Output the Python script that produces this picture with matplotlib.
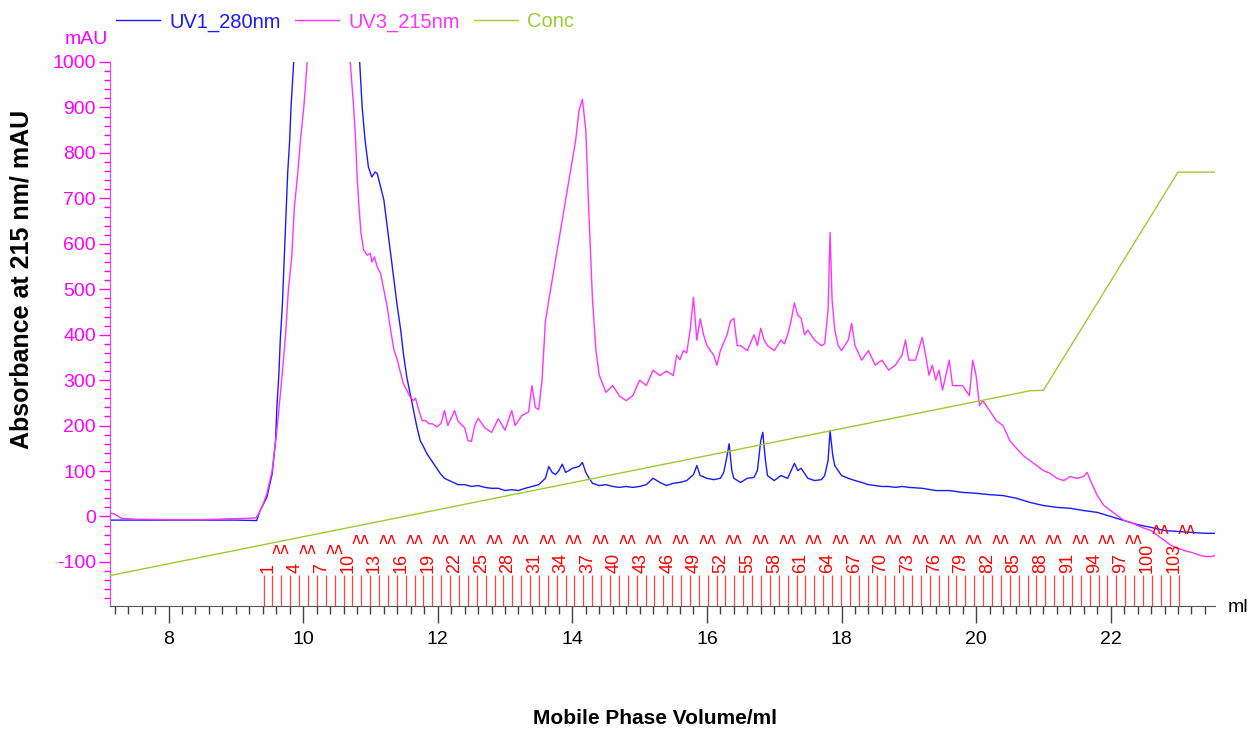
import matplotlib
matplotlib.use("Agg")
import matplotlib.pyplot as plt
import matplotlib.transforms as mtransforms
from matplotlib.lines import Line2D
import numpy as np

plt.rcParams['font.family'] = ['Liberation Sans', 'DejaVu Sans']
plt.rcParams['axes.unicode_minus'] = False

# UV1_280nm trace (ml, mAU); values above 1000 are off scale in the original
uv1_vol = [7.13, 7.5, 8.0, 8.5, 9.0, 9.31, 9.36, 9.46, 9.54, 9.59, 9.61, 9.64, 9.66, 9.69,
           9.71, 9.73, 9.75, 9.77, 9.80, 9.82, 9.86, 9.90, 10.80, 10.84, 10.877, 10.92,
           10.97, 11.02, 11.07, 11.10, 11.20, 11.25, 11.30, 11.35, 11.40, 11.45, 11.49,
           11.54, 11.59, 11.64, 11.69, 11.74, 11.79, 11.84, 11.94, 12.04, 12.1, 12.2,
           12.3, 12.4, 12.5, 12.6, 12.7, 12.8, 12.9, 13.0, 13.1, 13.2, 13.3, 13.4, 13.5,
           13.6, 13.65, 13.7, 13.75, 13.8, 13.85, 13.9, 13.95, 14.0, 14.1, 14.15, 14.2,
           14.25, 14.3, 14.4, 14.5, 14.6, 14.7, 14.8, 14.9, 15.0, 15.1, 15.2, 15.3, 15.4,
           15.5, 15.6, 15.7, 15.8, 15.85, 15.9, 16.0, 16.1, 16.2, 16.25, 16.3, 16.33,
           16.37, 16.4, 16.5, 16.6, 16.7, 16.75, 16.8, 16.83, 16.87, 16.9, 17.0, 17.1,
           17.2, 17.3, 17.35, 17.4, 17.5, 17.6, 17.7, 17.75, 17.8, 17.83, 17.87, 17.9,
           18.0, 18.1, 18.2, 18.3, 18.4, 18.5, 18.6, 18.7, 18.8, 18.9, 19.0, 19.2, 19.4,
           19.6, 19.8, 20.0, 20.2, 20.4, 20.6, 20.8, 21.0, 21.2, 21.4, 21.6, 21.8, 22.0,
           22.2, 22.4, 22.6, 22.8, 23.0, 23.2, 23.4, 23.55]
uv1_mau = [-8, -8, -8, -8, -8, -9, 13, 42, 94, 167, 241, 314, 388, 461,
           535, 608, 681, 755, 828, 901, 1000, 1100, 1100, 1000, 901, 828,
           769, 747, 758, 755, 696, 637, 579, 520, 461, 410, 358,
           307, 270, 233, 197, 167, 153, 138, 116, 94, 84, 77,
           70, 70, 66, 68, 64, 62, 62, 57, 59, 57, 62, 66, 70,
           84, 110, 97, 92, 101, 115, 97, 101, 106, 110, 119, 97,
           84, 73, 68, 70, 66, 64, 66, 64, 66, 70, 84, 75, 68,
           73, 75, 79, 92, 112, 90, 84, 81, 84, 97, 134, 160,
           101, 84, 75, 84, 86, 101, 167, 185, 123, 90, 79, 90,
           84, 117, 101, 106, 84, 79, 81, 90, 123, 189, 134, 112,
           90, 84, 79, 75, 70, 68, 66, 66, 64, 66, 64, 62, 57,
           57, 53, 51, 48, 46, 40, 31, 24, 20, 18, 13, 9, 0,
           -9, -18, -24, -31, -33, -35, -37, -37]

# UV3_215nm trace (ml, mAU)
uv3_vol = [7.13, 7.2, 7.3, 7.5, 8.0, 8.5, 9.0, 9.2, 9.3, 9.34, 9.40, 9.46, 9.54, 9.61,
           9.69, 9.74, 9.78, 9.83, 9.87, 9.92, 9.96, 10.01, 10.06, 10.10, 10.66, 10.70,
           10.75, 10.78, 10.80, 10.83, 10.86, 10.90, 10.95, 11.00, 11.02, 11.06, 11.10,
           11.15, 11.20, 11.25, 11.30, 11.35, 11.40, 11.45, 11.49, 11.54, 11.59, 11.64,
           11.67, 11.72, 11.77, 11.82, 11.87, 11.92, 11.99, 12.05, 12.1, 12.15, 12.25,
           12.3, 12.4, 12.45, 12.5, 12.55, 12.6, 12.7, 12.8, 12.9, 13.0, 13.1, 13.15,
           13.25, 13.35, 13.4, 13.45, 13.5, 13.55, 13.6, 13.65, 13.7, 13.8, 13.9, 14.0,
           14.05, 14.1, 14.15, 14.2, 14.25, 14.3, 14.35, 14.4, 14.5, 14.6, 14.7, 14.8,
           14.9, 15.0, 15.1, 15.2, 15.3, 15.4, 15.5, 15.55, 15.6, 15.65, 15.7, 15.75,
           15.8, 15.85, 15.9, 15.95, 16.0, 16.1, 16.15, 16.2, 16.3, 16.35, 16.4, 16.45,
           16.5, 16.6, 16.7, 16.75, 16.8, 16.85, 16.9, 17.0, 17.1, 17.15, 17.2, 17.25,
           17.3, 17.35, 17.4, 17.45, 17.5, 17.6, 17.7, 17.75, 17.8, 17.83, 17.86, 17.9,
           17.95, 18.0, 18.1, 18.15, 18.2, 18.3, 18.4, 18.5, 18.6, 18.7, 18.8, 18.9,
           18.95, 19.0, 19.1, 19.2, 19.25, 19.3, 19.35, 19.4, 19.45, 19.5, 19.55, 19.6,
           19.65, 19.7, 19.8, 19.9, 19.95, 20.0, 20.05, 20.1, 20.2, 20.3, 20.4, 20.5,
           20.6, 20.7, 20.8, 20.9, 21.0, 21.1, 21.2, 21.3, 21.4, 21.5, 21.6, 21.65,
           21.7, 21.8, 21.9, 22.0, 22.1, 22.2, 22.3, 22.4, 22.5, 22.6, 22.7, 22.8, 22.9,
           23.0, 23.1, 23.2, 23.3, 23.4, 23.5, 23.55]
uv3_mau = [8, 5, -4, -6, -7, -7, -5, -4, -3, 6, 25, 50, 101, 189,
           314, 402, 498, 571, 681, 755, 828, 901, 1000, 1100, 1100, 1000,
           901, 828, 755, 681, 623, 586, 575, 579, 560, 571, 549,
           535, 498, 461, 410, 366, 344, 314, 292, 278, 263, 255,
           260, 233, 211, 211, 204, 204, 197, 205, 233, 200, 233,
           210, 195, 167, 165, 200, 216, 195, 185, 215, 190, 233, 200,
           222, 230, 288, 240, 235, 300, 430, 475, 520, 608, 696, 784,
           828, 894, 918, 850, 652, 476, 366, 311, 273, 288, 265, 255,
           266, 300, 288, 322, 310, 320, 310, 355, 345, 365, 360, 410,
           482, 388, 435, 400, 376, 355, 333, 365, 400, 430, 436, 376,
           376, 365, 400, 376, 414, 388, 376, 365, 388, 380, 400, 430,
           470, 443, 436, 400, 410, 388, 376, 380, 453, 625, 476, 410,
           376, 365, 388, 425, 376, 344, 365, 333, 344, 322, 333, 355,
           388, 344, 344, 394, 355, 311, 333, 300, 322, 278, 310, 344,
           288, 288, 288, 266, 344, 310, 244, 255, 233, 211, 200, 167,
           150, 134, 123, 112, 101, 95, 84, 79, 88, 84, 88, 97,
           79, 46, 24, 13, 2, -9, -13, -20, -26, -31, -42, -53, -64,
           -70, -75, -79, -84, -88, -88, -86]

# gradient concentration, %B (breakpoints)
conc_vol = [7.13, 20.8, 21.0, 23.0, 23.55]
conc_pct = [0.0, 45.8, 45.9, 100.0, 100.0]

# fraction collection
frac_first = 9.412
frac_last = 23.008
n_frac = 103
frac_label_step = 3

fig = plt.figure(figsize=(12.53, 7.29), dpi=100)
ax = fig.add_axes([110 / 1253, 1 - 606 / 729, (1215 - 110) / 1253, (606 - 62) / 729])

ax.plot(uv1_vol, uv1_mau, color='#1a1aff', lw=1.0, label='UV1_280nm')
ax.plot(uv3_vol, uv3_mau, color='#ff33ff', lw=1.0, label='UV3_215nm')

# conc on a hidden twin axis
ax2 = ax.twinx()
ax2.plot(conc_vol, conc_pct, color='#9acd32', lw=1.0, label='Conc')
ax2.set_ylim(-7.55, 127.3)
ax2.axis('off')

ax.set_xlim(7.13, 23.55)
ax.set_ylim(-197, 1000)

for s in ['top', 'right']:
    ax.spines[s].set_visible(False)
ax.spines['left'].set_color('#ff33ff')
ax.spines['bottom'].set_color('#555555')

ax.set_yticks(np.arange(-100, 1001, 100))
ax.set_yticks(np.arange(-180, 1001, 20), minor=True)
ax.set_xticks(np.arange(8, 23, 2))
ax.set_xticks(np.arange(7.2, 23.5, 0.2), minor=True)
ax.tick_params(axis='y', which='major', colors='#ff00ff', length=8, width=1,
               labelsize=14, pad=2)
ax.tick_params(axis='y', which='minor', colors='#ff00ff', length=4, width=1)
ax.tick_params(axis='x', which='major', color='#444444', labelcolor='black',
               length=12, width=1, labelsize=14, pad=6)
ax.tick_params(axis='x', which='minor', color='#444444', length=6, width=1)

# fraction marks
bounds = np.linspace(frac_first, frac_last, n_frac + 1)
fw = bounds[1] - bounds[0]
ah = 544.0
trans = mtransforms.blended_transform_factory(ax.transData, ax.transAxes)
ax.vlines(bounds, 0, 31 / ah, transform=trans, color='#ff2020', lw=0.9, alpha=0.85)
for k in range(1, n_frac + 1, frac_label_step):
    xc = bounds[k - 1] + fw * 0.5
    ax.text(xc, 33 / ah, str(k), transform=trans, rotation=90, ha='center',
            va='bottom', color='red', fontsize=13)
    nd = len(str(k))
    ax.text(xc + 1.45 * fw, (33 + 10.5 * nd + 12.5) / ah, '\u028c\u028c', transform=trans,
            ha='center', va='center', color='red', fontsize=11,
            family='DejaVu Sans')

# legend
handles = [Line2D([], [], color='#1a1aff', lw=1.0),
           Line2D([], [], color='#ff33ff', lw=1.0),
           Line2D([], [], color='#9acd32', lw=1.0)]
leg = fig.legend(handles, ['UV1_280nm', 'UV3_215nm', 'Conc'], loc='center left',
                 bbox_to_anchor=(116 / 1253, 1 - 22 / 729), ncol=3, frameon=False,
                 fontsize=14.5, handlelength=2.2, handletextpad=0.45,
                 columnspacing=0.7, borderpad=0, borderaxespad=0)
for t, c in zip(leg.get_texts(), ['#1a1aff', '#ff33ff', '#9acd32']):
    t.set_color(c)

fig.text(108 / 1253, 1 - 40 / 729, 'mAU', color='#ff00ff', fontsize=14,
         ha='right', va='center')
fig.text(1238 / 1253, 1 - 607 / 729, 'ml', color='black', fontsize=14,
         ha='center', va='center')
fig.text(22 / 1253, 1 - 279 / 729, 'Absorbance at 215 nm/ mAU', rotation=90,
         fontsize=18, fontweight='bold', ha='center', va='center')
fig.text(655 / 1253, 1 - 718 / 729, 'Mobile Phase Volume/ml', fontsize=15,
         fontweight='bold', ha='center', va='center')

fig.savefig('out.png', dpi=100)
